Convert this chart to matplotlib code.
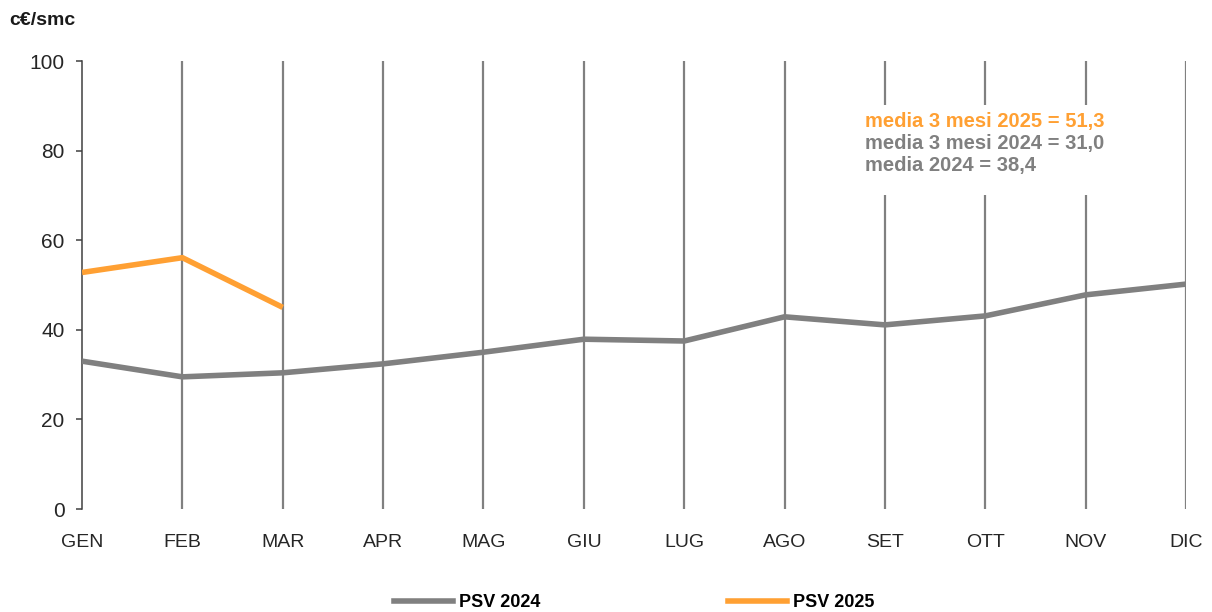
import matplotlib
matplotlib.use("Agg")
import matplotlib.pyplot as plt
from matplotlib.lines import Line2D
from matplotlib.patches import Rectangle

plt.rcParams['font.family'] = ['Liberation Sans', 'DejaVu Sans']

months = ["GEN", "FEB", "MAR", "APR", "MAG", "GIU", "LUG", "AGO", "SET", "OTT", "NOV", "DIC"]
psv_2024 = [33.0, 29.5, 30.4, 32.4, 35.0, 37.9, 37.5, 42.9, 41.1, 43.1, 47.8, 50.2]
psv_2025 = [52.8, 56.1, 45.0]
y_ticks = [0, 20, 40, 60, 80, 100]
notes = ["media 3 mesi 2025 = 51,3", "media 3 mesi 2024 = 31,0", "media 2024 = 38,4"]

GREY = "#808080"
ORANGE = "#FFA033"
TEXT = "#262626"

fig = plt.figure(figsize=(12.12, 6.12), dpi=100)
ax = fig.add_axes([0.0677, 0.1683, 0.9108, 0.732])

x24 = list(range(len(psv_2024)))
x25 = list(range(len(psv_2025)))

# vertical month grid
for i in range(1, len(months)):
    ax.axvline(i, color=GREY, lw=1.6, zorder=1)

ax.plot(x24, psv_2024, color=GREY, lw=4.0, solid_capstyle='butt', zorder=3)
ax.plot(x25, psv_2025, color=ORANGE, lw=4.0, solid_capstyle='butt', zorder=4)

ax.set_xlim(0, len(months) - 1)
ax.set_ylim(0, 100)
ax.set_xticks(range(len(months)))
ax.set_xticklabels(months, fontsize=14, color=TEXT)
ax.set_yticks(y_ticks)
ax.set_yticklabels([str(v) for v in y_ticks], fontsize=15, color=TEXT)
ax.tick_params(axis='x', length=0, pad=18)
ax.tick_params(axis='y', length=4.5, width=1.1, color="#404040", pad=8)

for s in ['top', 'right', 'bottom']:
    ax.spines[s].set_visible(False)
ax.spines['left'].set_color("#404040")
ax.spines['left'].set_linewidth(1.1)

# white panel behind the averages
ax.add_patch(Rectangle((7.75, 70.1), 2.4, 20.1, facecolor='white', edgecolor='none', zorder=2))
note_colors = [ORANGE, GREY, GREY]
for k, (txt, c) in enumerate(zip(notes, note_colors)):
    ax.text(7.8, 86.4 - k * 4.9, txt, color=c, fontsize=14.5, fontweight='bold',
            va='center', ha='left', zorder=5)

fig.text(0.008, 0.966, "c€/smc", fontsize=14, fontweight='bold', color="#1a1a1a",
         va='center', ha='left')

handles = [Line2D([], [], color=GREY, lw=4.0), Line2D([], [], color=ORANGE, lw=4.0)]
fig.legend(handles, ["PSV 2024", "PSV 2025"], loc='center', bbox_to_anchor=(0.523, 0.015),
           ncol=2, frameon=False, handlelength=3.3, handletextpad=0.3, columnspacing=10.4,
           prop={'weight': 'bold', 'size': 13})

fig.savefig("out.png", dpi=100, facecolor='white')
